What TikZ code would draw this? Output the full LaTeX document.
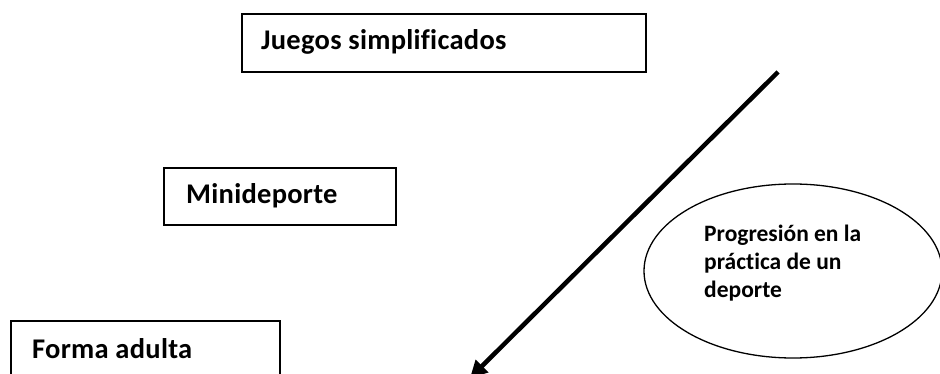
\documentclass[tikz,border=0pt]{standalone}
\usepackage{fontspec}
\setmainfont{Carlito}
\newfontfamily\boxfont{Carlito}[Ligatures=NoCommon, LetterSpace=1]
\newfontfamily\ovalfont{Carlito}[Ligatures=NoCommon]
\usetikzlibrary{shapes.geometric,arrows.meta}
\begin{document}
\begin{tikzpicture}[x=1pt,y=-1pt,
  boxshape/.style={draw=black, line width=1.6pt, rectangle, inner sep=0pt, anchor=north west},
  boxtext/.style={anchor=base west, inner sep=0pt, font=\boxfont\fontsize{28.5}{34}\selectfont\bfseries},
  ovaltext/.style={anchor=base west, inner sep=0pt, align=left, font=\ovalfont\fontsize{23.5}{27.5}\selectfont\bfseries},
  progarrow/.style={line width=4.5pt, -{Triangle[length=17pt,width=17pt]}}]
\useasboundingbox (0,0) rectangle (940,374);
\clip (0,0) rectangle (940,374);
% boxes
\node[boxshape, minimum width=404pt, minimum height=58pt] (b1) at (241,13) {};
\node[boxtext] (t1) at (261,50) {Juegos simplificados};
\node[boxshape, minimum width=232pt, minimum height=57pt] (b2) at (163,167) {};
\node[boxtext] (t2) at (186,204) {Minideporte};
\node[boxshape, minimum width=269pt, minimum height=80pt] (b3) at (10,320) {};
\node[boxtext] (t3) at (32,358) {Forma adulta};
% ellipse
\node[ellipse, draw=black, line width=1.3pt, minimum width=298pt, minimum height=174pt, inner sep=0pt] (e) at (793,271) {};
\node[ovaltext] (et) at (704,297) {Progresión en la\\práctica de un\\deporte};
% arrow
\coordinate (a0) at (778,72);
\coordinate (a1) at (470,378);
\draw[progarrow] (a0) -- (a1);
\end{tikzpicture}
\end{document}
